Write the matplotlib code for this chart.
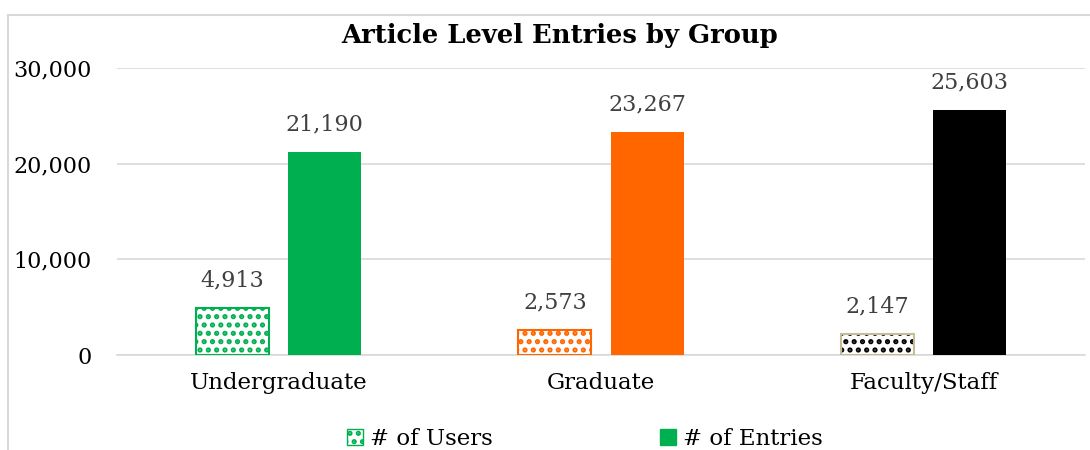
import matplotlib
matplotlib.use("Agg")
import matplotlib.pyplot as plt
from matplotlib.patches import Rectangle, Patch
from matplotlib.ticker import FuncFormatter

categories = ["Undergraduate", "Graduate", "Faculty/Staff"]
users = [4913, 2573, 2147]
entries = [21190, 23267, 25603]
colors = ["#00b050", "#ff6600", "#000000"]
user_edge = ["#00b050", "#ff6600", "#c4bd97"]
yticks = [0, 10000, 20000, 30000]

plt.rcParams['font.family'] = ['DejaVu Serif']
plt.rcParams['hatch.linewidth'] = 2.5

W, H = 1090, 450
fig = plt.figure(figsize=(W/100, H/100), dpi=100)
ax = fig.add_axes([117/W, 1-355/H, (1085-117)/W, (355-68)/H])

# chart border
fig.patches.append(Rectangle((8/W, -0.1), 1.2, 1-15/H+0.1, transform=fig.transFigure,
                             fill=False, edgecolor="#d9d9d9", linewidth=1.5))

x = list(range(len(categories)))
bw = 0.227
off = 0.143
for i in x:
    ax.bar(i - off, users[i], bw, color="white", edgecolor=colors[i], hatch="..",
           linewidth=0, zorder=3)
    ax.bar(i - off, users[i], bw, fill=False, edgecolor=user_edge[i], linewidth=1.5, zorder=4)
    ax.bar(i + off, entries[i], bw, color=colors[i], linewidth=0, zorder=3)
    ax.annotate(f"{users[i]:,}", (i - off, users[i]), xytext=(0, 20), textcoords="offset points",
                ha="center", va="center", fontsize=16, color="#404040")
    ax.annotate(f"{entries[i]:,}", (i + off, entries[i]), xytext=(0, 20), textcoords="offset points",
                ha="center", va="center", fontsize=16, color="#404040")

ax.set_xlim(-0.5, 2.5)
ax.set_ylim(0, 30000)
ax.set_yticks(yticks)
ax.yaxis.set_major_formatter(FuncFormatter(lambda v, p: f"{int(v):,}"))
ax.set_xticks(x)
ax.set_xticklabels(categories)
ax.grid(axis="y", color="#d9d9d9", linewidth=1.2, zorder=0)
for s in ["top", "right", "left"]:
    ax.spines[s].set_visible(False)
ax.spines["bottom"].set_color("#d9d9d9")
ax.spines["bottom"].set_linewidth(1.2)
ax.tick_params(axis="both", length=0, labelsize=16, colors="#000000")
ax.tick_params(axis="x", labelsize=16.5)
ax.tick_params(axis="y", pad=18)
ax.tick_params(axis="x", pad=12)

fig.text(560/W, 1-35/H, "Article Level Entries by Group", ha="center", va="center",
         fontsize=18.6, fontweight="bold")

h1 = Patch(facecolor="white", edgecolor=colors[0], hatch="..", linewidth=1)
h2 = Patch(facecolor=colors[0], edgecolor=colors[0])
leg = fig.legend([h1, h2], ["# of Users", "# of Entries"], loc="center",
                 bbox_to_anchor=(585/W, 1-439/H), ncol=2, frameon=False,
                 handlelength=0.7, handleheight=0.7, columnspacing=7.3,
                 handletextpad=0.3, prop={'family': 'DejaVu Serif', 'size': 16.5})

fig.savefig("out.png", dpi=100)
